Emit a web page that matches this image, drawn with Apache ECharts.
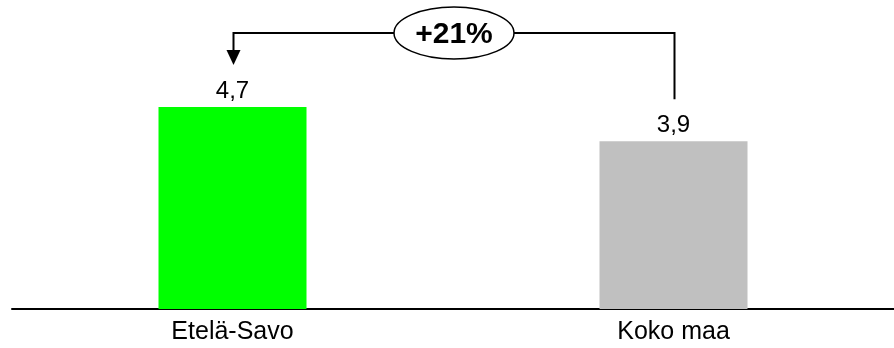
<!DOCTYPE html>
<html>
<head>
<meta charset="utf-8">
<script src="https://cdn.jsdelivr.net/npm/echarts@6/dist/echarts.min.js"></script>
<style>
    html, body { margin: 0; padding: 0; background: #fff; }
    #main { width: 894px; height: 348px; }
</style>
</head>
<body>
<div id="main"></div>
<script>
var categories = ['Etelä-Savo', 'Koko maa'];
var values = [4.7, 3.9];
var barColors = ['#00ff00', '#c0c0c0'];

function fmt(v) {
    return String(v.toFixed(1)).replace('.', ',');
}

function init() {
    var chart = echarts.init(document.getElementById('main'));
    var option = {
        animation: false,
        grid: { left: 12, width: 888, top: 8, bottom: 39 },
        xAxis: {
            type: 'category',
            data: categories,
            axisLine: { lineStyle: { color: '#000', width: 2 } },
            axisTick: { show: false },
            axisLabel: { color: '#000', fontSize: 25, fontFamily: 'Liberation Sans', margin: 11 }
        },
        yAxis: { type: 'value', min: 0, max: 7, show: false },
        series: [{
            type: 'bar',
            barWidth: 148,
            data: values.map(function (v, i) {
                return { value: v, itemStyle: { color: barColors[i] } };
            }),
            label: {
                show: true,
                position: 'top',
                distance: 4,
                color: '#000',
                fontSize: 24,
                fontFamily: 'Liberation Sans',
                formatter: function (p) { return fmt(p.value); }
            }
        }]
    };
    chart.setOption(option);

    // connector between the bars, placed from the bar positions
    var p1 = chart.convertToPixel({ seriesIndex: 0 }, [0, values[0]]);
    var p2 = chart.convertToPixel({ seriesIndex: 0 }, [1, values[1]]);
    var lineY = 33;
    var tipY = p1[1] - 42;
    var endY = p2[1] - 42;
    var midX = (p1[0] + p2[0]) / 2 + 1;
    var change = Math.round((values[0] / values[1] - 1) * 100);

    chart.setOption({
        graphic: [
            {
                type: 'polyline',
                shape: { points: [[p1[0] + 1, tipY - 14], [p1[0] + 1, lineY], [p2[0] + 1, lineY], [p2[0] + 1, endY]] },
                style: { stroke: '#000', lineWidth: 2, fill: null }
            },
            {
                type: 'polygon',
                shape: { points: [[p1[0] - 6, tipY - 15], [p1[0] + 8, tipY - 15], [p1[0] + 1, tipY]] },
                style: { fill: '#000' }
            },
            {
                type: 'ellipse',
                shape: { cx: midX, cy: lineY, rx: 60, ry: 26 },
                style: { fill: '#fff', stroke: '#000', lineWidth: 1.5 }
            },
            {
                type: 'text',
                x: midX,
                y: lineY + 2,
                style: {
                    text: (change > 0 ? '+' : '') + change + '%',
                    font: 'bold 30px "Liberation Sans"',
                    fill: '#000',
                    align: 'center',
                    verticalAlign: 'middle'
                }
            }
        ]
    });
}

init();
</script>
</body>
</html>
